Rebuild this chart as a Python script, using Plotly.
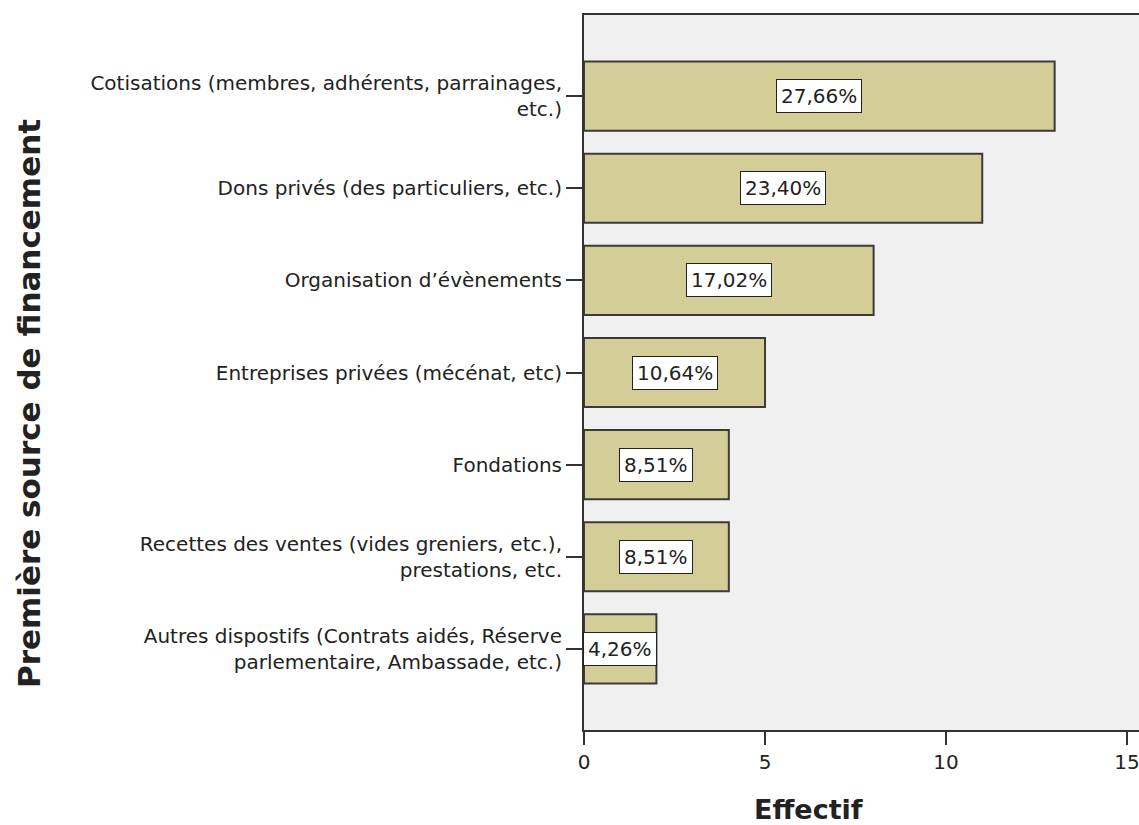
import plotly.graph_objects as go

categories = [
    "Cotisations (membres, adhérents, parrainages,<br>etc.)",
    "Dons privés (des particuliers, etc.)",
    "Organisation d’évènements",
    "Entreprises privées (mécénat, etc)",
    "Fondations",
    "Recettes des ventes (vides greniers, etc.),<br>prestations, etc.",
    "Autres dispostifs (Contrats aidés, Réserve<br>parlementaire, Ambassade, etc.)",
]
counts = [13, 11, 8, 5, 4, 4, 2]
pct_labels = ["27,66%", "23,40%", "17,02%", "10,64%", "8,51%", "8,51%", "4,26%"]
x_ticks = [0, 5, 10, 15]

FONT = "DejaVu Sans"
TXT = "#222222"

fig = go.Figure()
fig.add_trace(go.Bar(
    x=counts, y=categories, orientation="h", width=0.75,
    marker=dict(color="#D3CE98", line=dict(color="#3a3a3a", width=2)),
    hoverinfo="skip",
))

annotations = []
for c, v, p in zip(categories, counts, pct_labels):
    annotations.append(dict(
        x=v / 2, y=c, xref="x", yref="y", text=p, showarrow=False,
        font=dict(family=FONT, size=20, color=TXT),
        bgcolor="white", bordercolor="#222222", borderwidth=1, borderpad=4,
    ))
W, H = 1139, 825
ml, mr, mt, mb = 584, 0, 15, 95
pw, ph = W - ml - mr, H - mt - mb
annotations.append(dict(
    text="<b>Effectif</b>", x=(808 - ml) / pw, y=(H - mb - 809) / ph,
    xref="paper", yref="paper", xanchor="center", yanchor="middle",
    showarrow=False, font=dict(family=FONT, size=27, color=TXT),
))
annotations.append(dict(
    text="<b>Première source de financement</b>", x=(29 - ml) / pw,
    y=(H - mb - 404) / ph, xref="paper", yref="paper",
    xanchor="center", yanchor="middle",
    showarrow=False, textangle=-90, font=dict(family=FONT, size=31, color=TXT),
))

fig.update_layout(
    width=W, height=H,
    margin=dict(l=ml, r=mr, t=mt, b=mb, pad=0),
    paper_bgcolor="white", plot_bgcolor="#F0F0F0",
    showlegend=False, bargap=0.25,
    annotations=annotations,
    font=dict(family=FONT, size=20, color=TXT),
)
fig.update_xaxes(
    range=[0, 15.33], tickvals=x_ticks, ticks="outside", ticklen=13,
    tickwidth=2, tickcolor="#333333", showline=True, linecolor="#333333",
    linewidth=2, mirror=True, showgrid=False, zeroline=False,
    ticklabeloverflow="allow",
    tickfont=dict(family=FONT, size=20, color=TXT),
)
fig.update_yaxes(
    type="category", categoryorder="array", categoryarray=categories,
    range=[6.88, -0.88], ticks="outside", ticklen=16, tickwidth=2,
    tickcolor="#333333", showline=True, linecolor="#333333", linewidth=2,
    showgrid=False, zeroline=False,
    tickfont=dict(family=FONT, size=20, color=TXT),
)

fig.write_html(
    "out.html",
    config={"displayModeBar": False},
    post_script="document.body.style.margin='0';document.body.style.overflow='hidden';",
)
